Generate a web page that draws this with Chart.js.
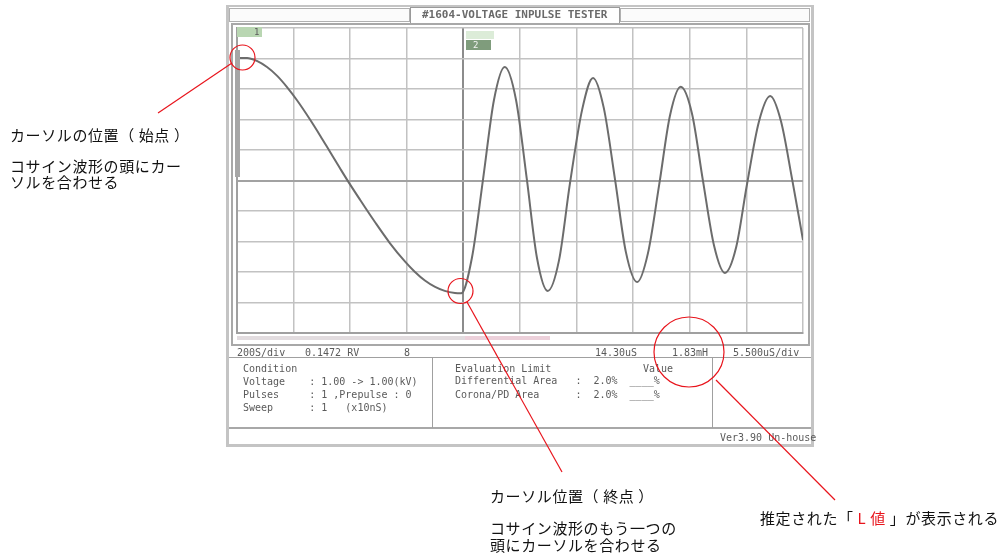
<!DOCTYPE html>
<html><head><meta charset="utf-8">
<script src="https://cdn.jsdelivr.net/npm/chart.js@4/dist/chart.umd.min.js"></script>
<style>
html,body{margin:0;padding:0;background:#fff;width:1003px;height:555px;overflow:hidden;position:relative;}
.box{position:absolute;box-sizing:border-box;}
.mono{position:absolute;font-family:"DejaVu Sans Mono",monospace;font-size:10px;color:#5a5a5a;white-space:pre;line-height:12px;}
.jp{position:absolute;font-family:"Noto Sans CJK JP","Noto Sans",sans-serif;font-size:15px;color:#111;white-space:pre;letter-spacing:0.6px;line-height:16px;}
#c{position:absolute;left:0;top:0;z-index:2;}
#ann{position:absolute;left:0;top:0;z-index:5;}
</style></head>
<body>
<!-- instrument screen frame -->
<div class="box" style="left:226px;top:5px;width:588px;height:442px;border:3px solid #c4c4c4;border-top-width:2px;background:#fff;z-index:0"></div>
<div class="box" style="left:229px;top:8px;width:181px;height:14px;border:1px solid #b0b0b0;background:#fbfbfb;z-index:1"></div>
<div class="box" style="left:410px;top:7px;width:210px;height:16px;border:1px solid #9a9a9a;border-bottom:none;background:#fff;z-index:1"></div>
<div class="box" style="left:620px;top:8px;width:190px;height:14px;border:1px solid #b0b0b0;background:#fbfbfb;z-index:1"></div>
<div class="mono" style="left:422px;top:9px;font-size:11px;font-weight:bold;color:#6a6a6a;z-index:3">#1604-VOLTAGE INPULSE TESTER</div>
<div class="box" style="left:231px;top:23px;width:579px;height:323px;border:2px solid #a8a8a8;z-index:1"></div>
<div class="box" style="left:229px;top:357px;width:582px;height:1px;background:#a0a0a0;z-index:1"></div>
<div class="box" style="left:229px;top:427px;width:582px;height:2px;background:#a8a8a8;z-index:1"></div>
<div class="box" style="left:432px;top:357px;width:1px;height:71px;background:#a0a0a0;z-index:1"></div>
<div class="box" style="left:712px;top:357px;width:1px;height:71px;background:#a0a0a0;z-index:1"></div>
<!-- scroll indicators -->
<div class="box" style="left:235px;top:50px;width:5px;height:127px;background:#a6a6a6;z-index:3"></div>
<div class="box" style="left:237px;top:336px;width:228px;height:4px;background:#e2dcdf;z-index:3"></div>
<div class="box" style="left:465px;top:336px;width:85px;height:4px;background:#ecd0da;z-index:3"></div>
<!-- trace labels -->
<div class="box" style="left:237px;top:27px;width:25px;height:10px;background:#b9d6b2;z-index:3"></div>
<div class="mono" style="left:254px;top:26px;font-size:9px;z-index:4">1</div>
<div class="box" style="left:466px;top:31px;width:28px;height:8px;background:#dcecd8;z-index:3"></div>
<div class="box" style="left:466px;top:40px;width:25px;height:10px;background:#7f9c7c;z-index:3"></div>
<div class="mono" style="left:473px;top:39px;font-size:9px;color:#f4f4f4;z-index:4">2</div>
<!-- info row -->
<div class="mono" style="left:237px;top:347px;z-index:3">200S/div</div>
<div class="mono" style="left:305px;top:347px;z-index:3">0.1472 RV</div>
<div class="mono" style="left:404px;top:347px;z-index:3">8</div>
<div class="mono" style="left:595px;top:347px;z-index:3">14.30uS</div>
<div class="mono" style="left:672px;top:347px;z-index:3">1.83mH</div>
<div class="mono" style="left:733px;top:347px;z-index:3">5.500uS/div</div>
<!-- condition panel -->
<div class="mono" style="left:243px;top:363px;z-index:3">Condition</div>
<div class="mono" style="left:243px;top:376px;z-index:3">Voltage    : 1.00 -&gt; 1.00(kV)</div>
<div class="mono" style="left:243px;top:389px;z-index:3">Pulses     : 1 ,Prepulse : 0</div>
<div class="mono" style="left:243px;top:402px;z-index:3">Sweep      : 1   (x10nS)</div>
<div class="mono" style="left:455px;top:363px;z-index:3">Evaluation Limit</div>
<div class="mono" style="left:643px;top:363px;z-index:3">Value</div>
<div class="mono" style="left:455px;top:375px;z-index:3">Differential Area   :  2.0%  ____%</div>
<div class="mono" style="left:455px;top:389px;z-index:3">Corona/PD Area      :  2.0%  ____%</div>
<div class="mono" style="left:720px;top:432px;z-index:3">Ver3.90 Un-house</div>

<canvas id="c" width="1003" height="555"></canvas>

<!-- annotations -->
<svg id="ann" width="1003" height="555">
  <g fill="none" stroke="#e8141c" stroke-width="1.2">
    <circle cx="242.5" cy="57.5" r="12.5"/>
    <line x1="158" y1="113" x2="232" y2="63"/>
    <circle cx="460.5" cy="291" r="12.5"/>
    <line x1="467" y1="302" x2="562" y2="472"/>
    <circle cx="689" cy="352" r="35"/>
    <line x1="716" y1="380" x2="835" y2="500"/>
  </g>
</svg>
<div class="jp" style="left:10px;top:127px;z-index:6">カーソルの位置（ 始点 ）</div>
<div class="jp" style="left:10px;top:158px;z-index:6">コサイン波形の頭にカー</div>
<div class="jp" style="left:10px;top:174px;z-index:6">ソルを合わせる</div>
<div class="jp" style="left:490px;top:488px;z-index:6">カーソル位置（ 終点 ）</div>
<div class="jp" style="left:490px;top:520px;z-index:6">コサイン波形のもう一つの</div>
<div class="jp" style="left:490px;top:537px;z-index:6">頭にカーソルを合わせる</div>
<div class="jp" style="left:760px;top:510px;z-index:6">推定された「 <span style="color:#e8141c">L 値</span> 」が表示される</div>

<script>
// time axis in divisions (0..10), voltage in divisions (-5..5)
const cursorSweepTime = [0.05,0.18,0.35,0.53,0.71,0.88,1.06,1.29,1.47,1.64,1.82,1.96,2.17,2.44,2.70,2.97,3.14,3.32,3.50,3.67,3.85];
const cursorSweepVolt = [4.02,4.02,3.92,3.72,3.43,3.07,2.63,2.00,1.47,0.95,0.40,-0.02,-0.62,-1.37,-2.05,-2.66,-2.99,-3.28,-3.49,-3.62,-3.69];
const ringTime = [3.96,4.15,4.35,4.54,4.73,4.93,5.12,5.30,5.49,5.69,5.88,6.10,6.29,6.48,6.68,6.87,7.07,7.26,7.46,7.65,7.84,8.04,8.23,8.43,8.62,8.82,9.01,9.22,9.42,9.61,9.81,10.00];
const ringVolt = [-3.70,-2.54,0.08,2.64,3.72,2.64,0.05,-2.54,-3.62,-2.61,-0.13,2.34,3.36,2.38,0.02,-2.34,-3.33,-2.39,-0.13,2.13,3.07,2.18,0.02,-2.15,-3.03,-2.18,-0.13,1.92,2.77,1.95,0.02,-1.95];
const xDivisions = [0,1,2,3,4,5,6,7,8,9,10];
const yDivisions = [-5,-4,-3,-2,-1,0,1,2,3,4,5];

const waveTime = cursorSweepTime.concat(ringTime);
const waveVolt = cursorSweepVolt.concat(ringVolt);
const wavePoints = waveTime.map((t,i)=>({x:t,y:waveVolt[i]}));

new Chart(document.getElementById('c'), {
  type:'line',
  data:{datasets:[{
    label:'Impulse response',
    data:wavePoints,
    borderColor:'#6c6c6c',
    borderWidth:2,
    pointRadius:0,
    cubicInterpolationMode:'monotone',
    fill:false
  }]},
  options:{
    responsive:false,
    animation:false,
    devicePixelRatio:1,
    layout:{padding:{left:237,top:28,right:200,bottom:222}},
    plugins:{legend:{display:false},tooltip:{enabled:false},title:{display:false}},
    scales:{
      x:{type:'linear',min:0,max:10,
         afterBuildTicks:s=>{s.ticks=xDivisions.map(v=>({value:v}));},
         ticks:{display:false},
         grid:{drawTicks:false,color:c=>(c.tick&&c.tick.value===4)?'#8c8c8c':'#c2c2c2',lineWidth:c=>(c.tick&&c.tick.value===4)?2:1.5},
         border:{display:true,color:'#a0a0a0',width:2}},
      y:{type:'linear',min:-5,max:5,
         afterBuildTicks:s=>{s.ticks=yDivisions.map(v=>({value:v}));},
         ticks:{display:false},
         grid:{drawTicks:false,color:c=>(c.tick&&c.tick.value===0)?'#a2a2a2':'#c2c2c2',lineWidth:c=>(c.tick&&c.tick.value===0)?2:1.5},
         border:{display:true,color:'#a0a0a0',width:2}}
    }
  }
});
</script>
</body></html>
